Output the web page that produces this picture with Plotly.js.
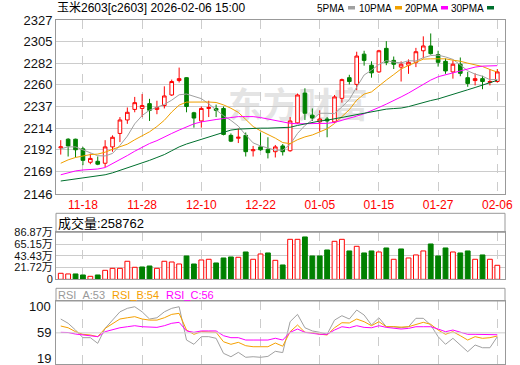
<!DOCTYPE html>
<html><head><meta charset="utf-8">
<script src="https://cdn.plot.ly/plotly-3.0.1.min.js"></script>
<style>html,body{margin:0;padding:0;background:#fff}#chart{width:520px;height:365px}</style>
</head><body><div id="chart"></div>
<script>
const dates = ['11-13','11-14','11-17','11-18','11-19','11-20','11-21','11-24','11-25','11-26',
  '11-27','11-28','12-01','12-02','12-03','12-04','12-05','12-08','12-09','12-10',
  '12-11','12-12','12-15','12-16','12-17','12-18','12-19','12-22','12-23','12-24',
  '12-25','12-26','12-29','12-30','12-31','01-05','01-06','01-07','01-08','01-09',
  '01-12','01-13','01-14','01-15','01-16','01-19','01-20','01-21','01-22','01-23',
  '01-26','01-27','01-28','01-29','01-30','02-02','02-03','02-04','02-05','02-06'];
const openP = [2194,2203,2203,2193,2179,2180,2178,2195,2209,2223,
  2234,2235,2240,2234,2238,2249,2264,2267,2230.5,2222,
  2235,2235,2235,2207,2204,2207,2191,2195,2192.5,2190,
  2196,2191,2220,2251,2228,2221,2224,2221,2245.5,2267,
  2260,2291.5,2280,2273,2297.5,2285,2278,2280,2283,2295,
  2300,2291,2284,2273,2281,2267,2264,2266,2262,2263];
const highP = [2202,2204,2203.5,2195,2188,2185,2202,2207,2226,2236,
  2247,2250,2245,2243,2258,2265,2277.5,2267.5,2231.5,2237,
  2243,2239,2237,2209,2214,2210,2196,2210,2205,2197,
  2198,2226,2250.5,2256,2235,2233,2226,2249,2266,2270,
  2294,2295,2284,2296,2305,2289,2284,2286,2298,2310,
  2313,2295,2287,2285,2288,2273,2271.5,2269,2276,2276];
const lowP = [2187,2185,2184,2176,2177,2176,2174,2190,2200,2219,
  2231,2226,2222,2229,2235,2248,2262,2231,2215,2215,
  2226,2226,2207,2200,2199,2185,2185,2191,2183,2184,
  2186,2190,2219,2223,2222,2211,2205,2220,2241,2260,
  2254,2279.5,2267,2272,2280,2276,2263,2271,2278,2287,
  2291,2278.5,2271,2266,2268.5,2257.5,2259,2255,2259,2262];
const closeP = [2195,2196,2192,2181,2183,2177,2195,2205,2223,2231,
  2241,2238,2233,2236,2248,2263,2266,2237,2225,2235,
  2236,2233,2208,2201,2205,2190,2192,2192,2189,2195,
  2190,2222,2249,2230,2225,2224,2222,2247,2265,2263,
  2289.5,2285,2272,2295,2283,2281,2281,2283,2294,2300,
  2292,2283,2274,2281,2271.5,2261,2266,2263,2263,2273];
const ma5 = [2193,2195,2195,2192,2189.4,2185.8,2185.6,2188.2,2196.6,2206.2,
  2219,2227.6,2233.2,2235.8,2239.2,2243.6,2249.2,2250,2247.8,2245.2,
  2239.8,2233.2,2227.4,2222.6,2216.6,2207.4,2199.2,2196,2193.6,2191.6,
  2191.6,2197.6,2209,2217.2,2223.2,2230,2230,2229.6,2236.6,2244.2,
  2257.2,2269.8,2274.8,2280.8,2284.8,2283.2,2282.4,2284.6,2284.4,2287.8,
  2290,2290.4,2288.6,2286,2280.3,2274.1,2270.7,2268.5,2264.9,2265.2];
const ma10 = [2178,2181.5,2184,2185.5,2187,2187.5,2189.5,2192.5,2195,2197.8,
  2202.4,2206.6,2210.7,2216.2,2222.7,2231.3,2238.4,2241.6,2241.8,2242.2,
  2241.7,2241.2,2238.7,2235.2,2230.9,2223.6,2216.2,2211.7,2208.1,2204.1,
  2199.5,2198.4,2202.5,2205.4,2207.4,2210.8,2213.8,2219.3,2226.9,2233.7,
  2243.6,2249.9,2252.2,2258.7,2264.5,2270.2,2276.1,2279.7,2282.6,2286.3,
  2286.6,2286.4,2286.6,2285.2,2284.1,2282.1,2280.6,2278.6,2275.5,2272.8];
const ma20 = [2166,2168,2170,2171,2171.5,2172,2173.5,2177.5,2182,2186,
  2190.5,2194.5,2198.5,2201.5,2205.5,2209,2212.5,2216,2219,2221,
  2222.5,2223.5,2224.5,2225.5,2226.5,2226.5,2226.5,2225.5,2224,2222,
  2220.5,2219.5,2219,2219,2219,2219,2219.5,2220.5,2222.5,2224.5,
  2227,2229.5,2232.5,2236,2239.5,2243,2247,2251,2255.5,2260.5,
  2264.5,2268,2270,2272,2274,2276,2278,2279,2279,2279.5];
const ma30 = [2159.5,2160.5,2161.5,2162.5,2163.5,2164.5,2166,2168,2170.5,2173,
  2175.5,2178,2181,2184,2187,2191,2195,2198,2200.5,2203,
  2205,2208,2210.5,2212.5,2213.5,2214,2214.5,2214.5,2214.5,2214.7,
  2214.5,2215.4,2217.3,2218.9,2220.3,2221.9,2222.8,2224.2,2225.6,2226.7,
  2228.3,2229.8,2231.1,2233.1,2234.3,2234.9,2235.4,2236.9,2239.2,2241.4,
  2243.2,2244.9,2247.1,2249.8,2252,2254.4,2256.8,2259.2,2261.7,2264.3];
// volume in 万 (10k lots)
const volume = [11.1,9.9,9.9,8.0,5.5,8.0,16.6,20.3,20.3,33.3,
  22.2,22.8,24.6,20.3,33.3,32.0,28.3,43.1,28.3,35.7,
  37.0,30.2,39.4,41.3,40.7,50.5,37.0,46.8,48.7,35.1,
  26.5,73.9,73.9,78.3,43.1,43.1,54.2,70.2,73.9,52.4,
  61.0,48.7,52.4,50.5,57.9,37.0,56.1,39.4,45.0,52.4,
  65.3,43.1,57.9,50.5,48.7,52.4,37.0,45.0,37.0,25.9];
const volDir = [1,1,-1,-1,1,-1,1,1,1,1, 1,-1,-1,1,1,1,1,-1,-1,1,
  1,-1,-1,-1,1,-1,1,1,-1,1, -1,1,1,-1,-1,-1,-1,1,1,-1,
  1,-1,-1,1,-1,1,-1,1,1,1, -1,-1,-1,1,-1,-1,1,-1,1,1];
const rsiA = [80.7,74,63.4,51.4,51.4,42.5,66,79,92,97.5,
  100,92,80.7,82.7,92,97.5,100,47.7,41,53,
  53,50.4,26.8,21.5,28.4,20.6,21.5,20.6,22,30,
  28,76.5,88,67,62,59.8,56.7,79,85.9,80.7,
  94.8,87,71.3,82.7,68.6,68.6,67,68.6,81.8,81.8,
  71.3,53,41,50.4,39.9,29.4,39.9,35.6,35.6,53];
const rsiB = [69.7,67,60.8,56.7,55.6,53,66,74,80.7,82.7,
  84.4,80.7,79,79,82.7,88,89.6,63.4,56.7,60.8,
  60.8,59.8,45,41,44.1,38.8,37.2,37.2,37.2,43,
  38,60.8,71.3,59.8,59.5,57,55.6,67,74.9,74.5,
  80.7,76.5,70.2,76.5,68.6,68.6,68,68.6,72.4,75.5,
  72.4,63.4,56.7,60.8,54.5,47.7,53,50.4,51.4,54];
const rsiC = [59.8,59.5,57.1,55.6,54.5,53,60.8,64.5,67,68.6,
  70.2,68.6,67.6,67.6,70.2,74,75.5,62,59.8,62,
  62,62,54.5,51.4,51.4,47.7,47.7,47.7,47.7,50.5,
  47.7,59.8,65,59.8,58.2,56.7,56.7,63.4,68.6,67,
  70.2,67.6,67,70.2,67.6,66,65,66,68.6,68.6,
  68.6,65,60.8,63.4,59.8,56.7,56.7,56.7,56.7,56];
const priceTicks = [2146,2169,2192,2214,2237,2260,2282,2305,2327];
const volTicks = [0,21.72,43.43,65.15,86.87];
const volTickText = ['0','21.72万','43.43万','65.15万','86.87万'];
const rsiTicks = [19,59,100];
const dateTicks = ['11-18','11-28','12-10','12-22','01-05','01-15','01-27','02-06'];
const titleText = '玉米2603[c2603] 2026-02-06 15:00';
const lastVolume = 258762;

const W = 520, H = 365;
const px = v => v / W, py = v => 1 - v / H;
const FONT = 'Liberation Sans, Arial, "Noto Sans CJK SC", sans-serif';
const C5 = '#a0a0a0', C10 = '#f0a000', C20 = '#ff00ff', C30 = '#00702e';
const RED = '#ff0000', GREEN = '#008000';
const xDom = [px(56), px(505)];
const xr = [-0.64, 60.04];

const traces = [
  {type:'candlestick', x:dates, open:openP, high:highP, low:lowP, close:closeP,
   xaxis:'x', yaxis:'y', whiskerwidth:0, hoverinfo:'none',
   increasing:{line:{color:RED,width:1}, fillcolor:'#ffffff'},
   decreasing:{line:{color:GREEN,width:1}, fillcolor:GREEN}},
  {type:'scatter', mode:'lines', x:dates, y:ma5, line:{color:C5,width:1}, xaxis:'x', yaxis:'y', hoverinfo:'none'},
  {type:'scatter', mode:'lines', x:dates, y:ma10, line:{color:C10,width:1}, xaxis:'x', yaxis:'y', hoverinfo:'none'},
  {type:'scatter', mode:'lines', x:dates, y:ma20, line:{color:C20,width:1}, xaxis:'x', yaxis:'y', hoverinfo:'none'},
  {type:'scatter', mode:'lines', x:dates, y:ma30, line:{color:C30,width:1}, xaxis:'x', yaxis:'y', hoverinfo:'none'},
  {type:'bar', x:dates, y:volume, xaxis:'x2', yaxis:'y2', hoverinfo:'none',
   marker:{color:volDir.map(d => d > 0 ? '#ffffff' : GREEN),
           line:{color:volDir.map(d => d > 0 ? RED : GREEN), width:1}}},
  {type:'scatter', mode:'lines', x:dates, y:rsiA, line:{color:C5,width:1}, xaxis:'x3', yaxis:'y3', hoverinfo:'none'},
  {type:'scatter', mode:'lines', x:dates, y:rsiB, line:{color:'#f5a000',width:1}, xaxis:'x3', yaxis:'y3', hoverinfo:'none'},
  {type:'scatter', mode:'lines', x:dates, y:rsiC, line:{color:C20,width:1}, xaxis:'x3', yaxis:'y3', hoverinfo:'none'}
];

const xBase = {type:'category', range:xr, domain:xDom, tickvals:dateTicks, ticktext:dateTicks,
  showgrid:true, gridcolor:'#cccccc', griddash:'dash', gridwidth:1, zeroline:false,
  showline:true, mirror:true, linecolor:'#999999', linewidth:1, ticks:'', automargin:false,
  fixedrange:true};
const yBase = {showline:true, mirror:true, linecolor:'#999999', linewidth:1, ticks:'',
  gridcolor:'#cccccc', gridwidth:1, zeroline:false, automargin:false, fixedrange:true,
  tickfont:{family:FONT, size:13, color:'#111111'}};

const svg = '<svg xmlns="http://www.w3.org/2000/svg" width="150" height="40" viewBox="0 0 150 40">' +
  '<text x="0" y="34" font-family="Noto Sans CJK SC" font-weight="bold" font-size="35" fill="#e4e4e4">东方财富</text></svg>';

const ann = (text, x, y, opts) => Object.assign({text, x:px(x), y:py(y), xref:'paper', yref:'paper',
  xanchor:'left', yanchor:'middle', showarrow:false, font:{family:FONT, size:12, color:'#000'}}, opts || {});

const legendFont = {family:FONT, size:10, color:'#000'};
const rsiLabels = rsiTicks.map(v => ({text:String(v), x:px(53), xref:'paper', y:v, yref:'y3',
  xanchor:'right', yanchor:'middle', showarrow:false, font:{family:FONT, size:13, color:'#111111'}}));

const layout = {
  width:W, height:H, margin:{l:0,r:0,t:0,b:0,pad:0}, autosize:false,
  paper_bgcolor:'#ffffff', plot_bgcolor:'rgba(0,0,0,0)', showlegend:false,
  bargap:0.35, boxgap:0.3, dragmode:false, hovermode:false,
  xaxis:Object.assign({}, xBase, {anchor:'y', rangeslider:{visible:false},
    tickfont:{family:FONT, size:12, color:RED}}),
  yaxis:Object.assign({}, yBase, {domain:[py(194), py(20)], anchor:'x', range:[2146,2327],
    tickvals:priceTicks, ticktext:priceTicks.map(String)}),
  xaxis2:Object.assign({}, xBase, {anchor:'y2', showticklabels:false}),
  yaxis2:Object.assign({}, yBase, {domain:[py(279.3), py(232.3)], anchor:'x2', range:[0,86.87],
    tickvals:volTicks, ticktext:volTickText, tickfont:{family:FONT, size:11, color:'#111111'}}),
  xaxis3:Object.assign({}, xBase, {anchor:'y3', showticklabels:false}),
  yaxis3:Object.assign({}, yBase, {domain:[py(364.3), py(301)], anchor:'x3', range:[9.6,109],
    tickvals:rsiTicks, showticklabels:false, showgrid:false}),
  images:[{source:'data:image/svg+xml;charset=utf-8,' + encodeURIComponent(svg),
    xref:'paper', yref:'paper', x:px(228), y:py(84), sizex:150/W, sizey:40/H,
    xanchor:'left', yanchor:'top', sizing:'stretch', layer:'below'}],
  shapes:[
    {type:'rect', xref:'paper', yref:'paper', x0:xDom[0], x1:xDom[1], y0:py(232.3), y1:py(213.3),
     line:{color:'#999999', width:1}},
    {type:'rect', xref:'paper', yref:'paper', x0:xDom[0], x1:xDom[1], y0:py(301), y1:py(288.3),
     line:{color:'#999999', width:1}},
    {type:'line', xref:'x3 domain', yref:'y3', x0:0, x1:1, y0:59, y1:59, line:{color:'#cccccc', width:1}},
    {type:'rect', xref:'paper', yref:'paper', x0:px(348), x1:px(355), y0:py(9.5), y1:py(6), fillcolor:C5, line:{width:0}},
    {type:'rect', xref:'paper', yref:'paper', x0:px(395), x1:px(402), y0:py(9.5), y1:py(6), fillcolor:C10, line:{width:0}},
    {type:'rect', xref:'paper', yref:'paper', x0:px(441), x1:px(448), y0:py(9.5), y1:py(6), fillcolor:C20, line:{width:0}},
    {type:'rect', xref:'paper', yref:'paper', x0:px(487), x1:px(494), y0:py(9.5), y1:py(6), fillcolor:C30, line:{width:0}}
  ],
  annotations:[
    ann(titleText, 55, 8, {font:{family:FONT, size:12, color:'#000'}}),
    ann('5PMA', 347, 8, {xanchor:'right', font:legendFont}),
    ann('10PMA', 394, 8, {xanchor:'right', font:legendFont}),
    ann('20PMA', 440, 8, {xanchor:'right', font:legendFont}),
    ann('30PMA', 486, 8, {xanchor:'right', font:legendFont}),
    ann('成交量:' + lastVolume, 56, 223, {font:{family:FONT, size:13, color:'#000'}}),
    ann('RSI_A:' + rsiA[rsiA.length-1], 56, 294.8, {font:{family:FONT, size:11, color:'#999999'}}),
    ann('RSI_B:' + rsiB[rsiB.length-1], 110, 294.8, {font:{family:FONT, size:11, color:'#f5a000'}}),
    ann('RSI_C:' + rsiC[rsiC.length-1], 164, 294.8, {font:{family:FONT, size:11, color:C20}})
  ].concat(rsiLabels)
};

Plotly.newPlot('chart', traces, layout, {staticPlot:true, displayModeBar:false});
</script></body></html>
